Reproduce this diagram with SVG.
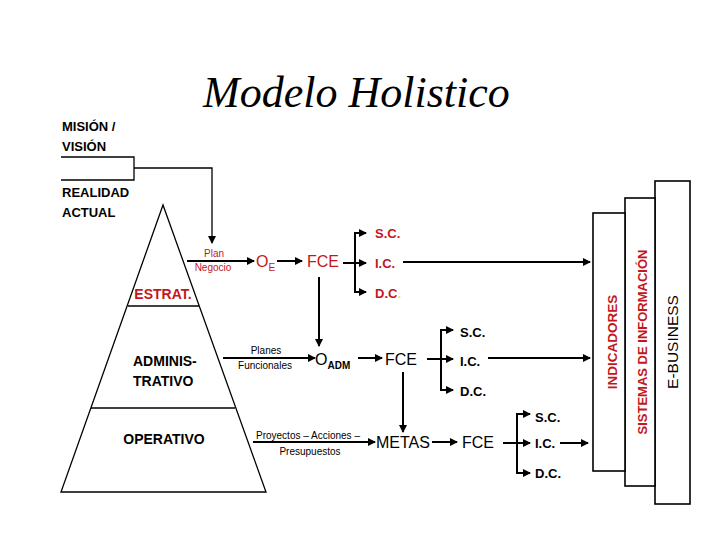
<svg xmlns="http://www.w3.org/2000/svg" width="720" height="540" viewBox="0 0 720 540">
<style>
text{font-family:"Liberation Sans",Arial,sans-serif;}
.t{font-family:"Liberation Serif","Times New Roman",serif;font-style:italic;font-size:44px;fill:#000;}
.lb{font-size:13px;font-weight:bold;fill:#000;}
.lv{font-size:14px;font-weight:bold;fill:#000;}
.sm{font-size:10px;fill:#000;}
.big{font-size:16px;fill:#000;}
.cx{font-size:13px;font-weight:bold;fill:#000;}
text.red,.red{fill:#c4161c;}
.ln{stroke:#000;stroke-width:2;fill:none;}
.ar{stroke:#000;stroke-width:2;fill:none;marker-end:url(#ah);}
.thin{stroke:#000;stroke-width:1.3;fill:none;}
.box{stroke:#000;stroke-width:1.6;fill:#fff;}
</style>
<defs>
<marker id="ah" markerUnits="userSpaceOnUse" markerWidth="9" markerHeight="8" refX="7" refY="4" orient="auto"><path d="M0,0 L8,4 L0,8 Z" fill="#000"/></marker>
</defs>
<rect width="720" height="540" fill="#fff"/>
<text class="t" x="203" y="107">Modelo Holistico</text>

<g id="mision"><text class="lb" x="62" y="131">MISIÓN /</text><text class="lb" x="62" y="151">VISIÓN</text></g>
<g id="realidad"><text class="lb" x="62" y="197">REALIDAD</text><text class="lb" x="62" y="217">ACTUAL</text></g>

<g id="piramide">
<polygon class="thin" points="163,205 61,492 266,492" fill="#fff"/>
<line class="thin" x1="128" y1="306" x2="199" y2="306"/>
<line class="thin" x1="91" y1="408" x2="235" y2="408"/>
<text class="lv red" x="163" y="299" text-anchor="middle">ESTRAT.</text>
<text class="lv" x="133" y="366">ADMINIS-</text>
<text class="lv" x="133" y="386">TRATIVO</text>
<text class="lv" x="164" y="444" text-anchor="middle">OPERATIVO</text>
</g>

<g id="boxes">
<rect id="ebusiness" class="box" x="655" y="181" width="35" height="323"/>
<rect id="sistemas" class="box" x="625" y="198" width="30" height="288"/>
<rect id="indicadores" class="box" x="593" y="213" width="32" height="258"/>
<text transform="translate(617,342) rotate(-90)" text-anchor="middle" style="font-size:13.5px;font-weight:bold" class="red">INDICADORES</text>
<text transform="translate(647,342) rotate(-90)" text-anchor="middle" style="font-size:13px;font-weight:bold" class="red">SISTEMAS DE INFORMACIÓN</text>
<text transform="translate(678,342) rotate(-90)" text-anchor="middle" style="font-size:15.5px;fill:#000">E-BUSINESS</text>
</g>

<g id="connectors">
<polyline class="thin" points="61,157 134,157 134,180 61,180"/>
<path class="ar" d="M134,168 H212 V243" style="stroke-width:1.3"/>
<line class="ar" x1="187" y1="261" x2="254" y2="261"/>
<line class="ar" x1="277" y1="261" x2="302" y2="261"/>
<line class="ar" x1="343" y1="263" x2="366" y2="263"/>
<path class="ln" d="M366,233 H355 V292 H366"/>
<line class="ar" x1="355" y1="233" x2="366" y2="233"/>
<line class="ar" x1="355" y1="292" x2="366" y2="292"/>
<line class="ar" x1="403" y1="262" x2="590" y2="262"/>
<line class="ar" x1="319" y1="277" x2="319" y2="346"/>

<line class="ar" x1="223" y1="358" x2="315" y2="358"/>
<line class="ar" x1="358" y1="358" x2="382" y2="358"/>
<line class="ar" x1="427" y1="359" x2="453" y2="359"/>
<path class="ln" d="M453,330 H441 V390 H453"/>
<line class="ar" x1="441" y1="330" x2="453" y2="330"/>
<line class="ar" x1="441" y1="390" x2="453" y2="390"/>
<line class="ar" x1="488" y1="358" x2="590" y2="358"/>
<line class="ar" x1="403" y1="372" x2="403" y2="432"/>

<line class="ar" x1="253" y1="442" x2="375" y2="442"/>
<line class="ar" x1="432" y1="442" x2="457" y2="442"/>
<line class="ar" x1="503" y1="443" x2="530" y2="443"/>
<path class="ln" d="M530,414 H517 V473 H530"/>
<line class="ar" x1="517" y1="414" x2="530" y2="414"/>
<line class="ar" x1="517" y1="473" x2="530" y2="473"/>
<line class="ar" x1="560" y1="443" x2="588" y2="443"/>
</g>

<g id="fila1">
<text class="sm red" x="214" y="257" text-anchor="middle">Plan</text>
<text class="sm red" x="213" y="271" text-anchor="middle">Negocio</text>
<text class="red" x="256" y="267" style="font-size:16px">O<tspan dy="4" style="font-size:10px">E</tspan></text>
<text class="big red" x="307" y="267">FCE</text>
<text class="cx red" x="375" y="238">S.C.</text>
<text class="cx red" x="375" y="268">I.C.</text>
<text class="cx red" x="375" y="298">D.C<tspan fill="#e8e870">.</tspan></text>
</g>

<g id="fila2">
<text class="sm" x="266" y="354" text-anchor="middle">Planes</text>
<text class="sm" x="265" y="369" text-anchor="middle">Funcionales</text>
<text class="big" x="315" y="365">O<tspan dy="4" style="font-size:10px;font-weight:bold">ADM</tspan></text>
<text class="big" x="385" y="365">FCE</text>
<text class="cx" x="460" y="337">S.C.</text>
<text class="cx" x="460" y="366">I.C.</text>
<text class="cx" x="460" y="396">D.C.</text>
</g>

<g id="fila3">
<text class="sm" x="256" y="439">Proyectos – Acciones –</text>
<text class="sm" x="310" y="455" text-anchor="middle">Presupuestos</text>
<text class="big" x="376" y="448">METAS</text>
<text class="big" x="462" y="448">FCE</text>
<text class="cx" x="535" y="422">S.C.</text>
<text class="cx" x="535" y="448">I.C.</text>
<text class="cx" x="535" y="478">D.C.</text>
</g>
</svg>
